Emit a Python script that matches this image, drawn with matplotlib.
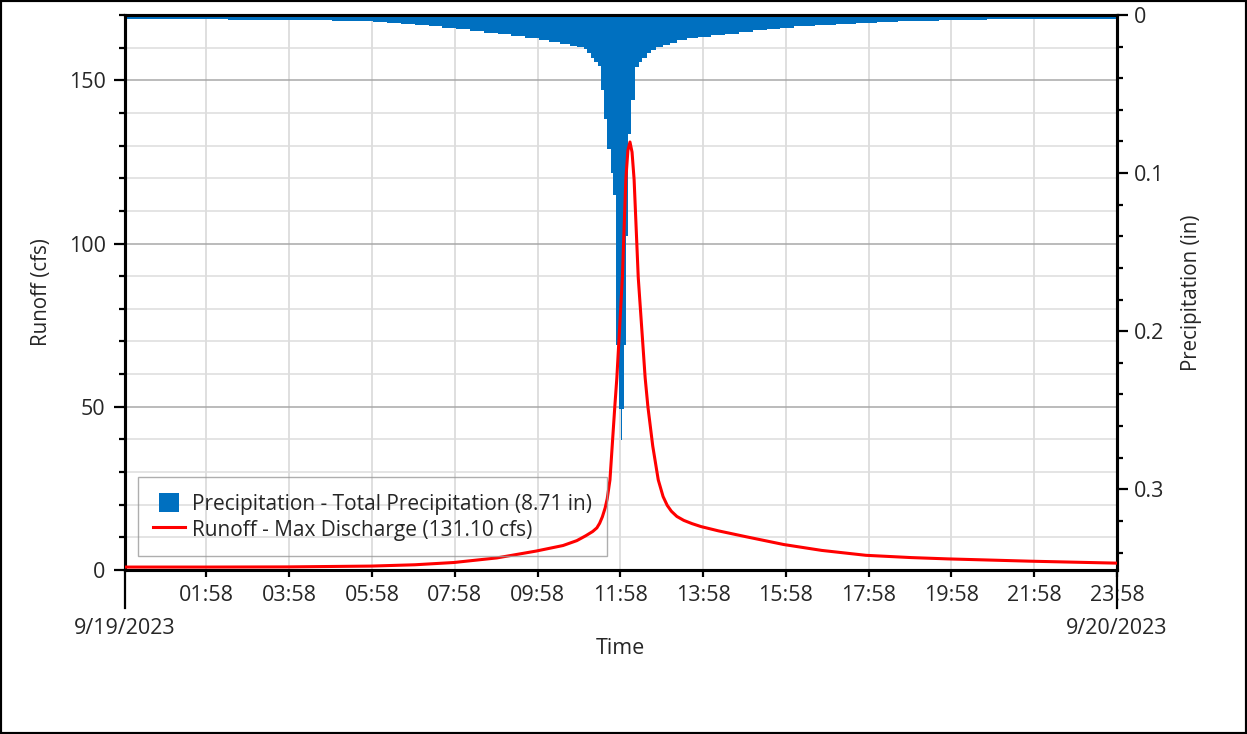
import numpy as np
import matplotlib
matplotlib.use("Agg")
import matplotlib.pyplot as plt
from matplotlib.ticker import MultipleLocator, FuncFormatter
from matplotlib.patches import Rectangle, StepPatch
from matplotlib.legend_handler import HandlerPatch

plt.rcParams['font.family'] = ['Open Sans', 'DejaVu Sans']

# ---------------- data ----------------
# Runoff hydrograph: minutes after 9/19/2023 00:00 and discharge (cfs)
runoff_minutes = [0, 119, 236, 357, 420, 477, 539, 596, 635, 655, 668, 678, 684, 688,
                  692, 696, 699, 703, 710, 713, 721, 726, 729, 732, 735, 738, 744, 754,
                  758, 765, 773, 780, 786, 792, 800, 810, 822, 835, 860, 900, 955, 1010,
                  1074, 1140, 1193, 1312, 1438]
runoff_cfs = [0.9, 0.9, 0.95, 1.2, 1.6, 2.3, 3.7, 5.8, 7.5, 9.0, 10.5, 11.8, 12.9, 14.3,
              16.3, 19.0, 21.8, 27.6, 50.0, 58.9, 89.6, 119.6, 128.5, 131.1, 128.0, 119.6,
              89.6, 58.9, 50.0, 38.0, 27.6, 22.5, 19.8, 18.0, 16.4, 15.2, 14.2, 13.3, 12.0,
              10.2, 7.8, 6.0, 4.5, 3.8, 3.4, 2.7, 2.1]

# Precipitation hyetograph: interval boundaries (minutes) and depth per interval (in)
precip_edges_min = [0, 30, 60, 90, 120, 150, 180, 210, 240, 270, 300, 330, 360, 380, 400,
                    420, 440, 460, 480, 500, 520, 540, 560, 580, 600, 615, 630, 645, 655,
                    665, 670, 675, 680, 685, 690, 694, 698, 704, 708, 712, 716, 719, 721,
                    723, 726, 729, 734, 739, 745, 750, 756, 762, 770, 780, 790, 800, 815,
                    830, 850, 870, 890, 910, 930, 950, 970, 1000, 1030, 1060, 1090, 1120,
                    1150, 1180, 1210, 1250, 1290, 1330, 1380, 1438]
precip_depth_in = [0.0026, 0.0026, 0.0027, 0.0027, 0.0028, 0.0029, 0.0030, 0.0031, 0.0032,
                   0.0034, 0.0036, 0.0039, 0.0044, 0.0050, 0.0057, 0.0064, 0.0071, 0.0080,
                   0.0090, 0.0103, 0.0112, 0.0120, 0.0130, 0.0145, 0.0158, 0.0172, 0.0183,
                   0.0193, 0.0200, 0.0212, 0.0240, 0.0275, 0.0300, 0.0320, 0.0475, 0.0660,
                   0.0850, 0.1000, 0.1140, 0.2090, 0.2490, 0.2690, 0.2490, 0.2090, 0.1400,
                   0.0750, 0.0540, 0.0330, 0.0300, 0.0270, 0.0240, 0.0220, 0.0205, 0.0190,
                   0.0175, 0.0160, 0.0148, 0.0138, 0.0128, 0.0118, 0.0108, 0.0098, 0.0088,
                   0.0080, 0.0072, 0.0063, 0.0055, 0.0048, 0.0043, 0.0039, 0.0035, 0.0032,
                   0.0030, 0.0028, 0.0027, 0.0026, 0.0025]
total_precip_in = 8.71

hour_tick_labels = ["01:58", "03:58", "05:58", "07:58", "09:58", "11:58",
                    "13:58", "15:58", "17:58", "19:58", "21:58", "23:58"]
date_labels = ["9/19/2023", "9/20/2023"]
date_label_minutes = [0, 1438]

# ---------------- figure ----------------
W, H = 1247, 734
fig = plt.figure(figsize=(W / 100, H / 100), dpi=100)
ax = fig.add_axes([125 / W, 1 - 570 / H, 992 / W, 555 / H])
ax2 = ax.twinx()

TXT = '#262626'
FS = 15.5
FS_LAB = 14.8
FS_LEG = 15.0
BLUE = '#0070C0'
RED = '#FF0000'

# precipitation hangs from the top on the inverted right axis
precip = ax2.stairs(precip_depth_in, precip_edges_min, baseline=0, fill=True,
                    color=BLUE, linewidth=0, zorder=2)

# runoff line uses the left-axis scale but is drawn above the bars
line, = ax2.plot(runoff_minutes, runoff_cfs, color=RED, lw=2.2, zorder=3,
                 transform=ax.transData, solid_joinstyle='round')

# left axis (runoff)
ax.set_xlim(0, 1438)
ax.set_ylim(0, 170)
ax.yaxis.set_major_locator(MultipleLocator(50))
ax.yaxis.set_minor_locator(MultipleLocator(10))
ax.grid(True, which='major', axis='y', color='#A8A8A8', lw=1.1)
ax.grid(True, which='minor', axis='y', color='#DDDDDD', lw=1.1)
ax.grid(True, which='major', axis='x', color='#D6D6D6', lw=1.1)
ax.set_axisbelow(True)

tick_pos = [int(s[:2]) * 60 + int(s[3:]) for s in hour_tick_labels]
ax.set_xticks(tick_pos, hour_tick_labels)
ax.tick_params(axis='x', which='major', length=5, width=1.6, pad=6,
               labelsize=FS, labelcolor=TXT)
ax.tick_params(axis='y', which='major', length=8, width=1.6, pad=6,
               labelsize=FS, labelcolor=TXT)
ax.tick_params(axis='y', which='minor', length=4, width=1.6)

# right axis (precipitation), inverted
ax2.set_xlim(0, 1438)
ax2.set_ylim(0.351, 0)
ax2.yaxis.set_major_locator(MultipleLocator(0.1))
ax2.yaxis.set_minor_locator(MultipleLocator(0.02))
ax2.yaxis.set_major_formatter(FuncFormatter(lambda v, p: f"{v:g}"))
ax2.tick_params(axis='y', which='major', length=8, width=1.6, pad=4,
                labelsize=FS, labelcolor=TXT)
ax2.tick_params(axis='y', which='minor', length=4, width=1.6)

for a in (ax, ax2):
    for s in a.spines.values():
        s.set_linewidth(2.2)
        s.set_color('black')

# long boundary ticks and the date labels under them
xt = ax.get_xaxis_transform()
for m, lab in zip(date_label_minutes, date_labels):
    ax.plot([m, m], [0, -38 / 555], transform=xt, color='black', lw=1.6,
            clip_on=False, zorder=5)
    ax.text(m, -58 / 555, lab, transform=xt, ha='center', va='center',
            fontsize=FS, color=TXT)
ax.set_xlim(0, 1438)

# axis titles
ax.set_ylabel('Runoff (cfs)', fontsize=FS_LAB, color=TXT, va='center')
ax.yaxis.set_label_coords((42 - 125) / 992, 0.5)
ax2.set_ylabel('Precipitation (in)', fontsize=FS_LAB, color=TXT, va='center', rotation=90)
ax2.yaxis.set_label_coords((1192 - 125) / 992, 0.5)
ax.set_xlabel('Time', fontsize=FS, color=TXT, va='center')
ax.xaxis.set_label_coords((620 - 125) / 992, -78 / 555)


# legend with a square swatch for the precipitation
def square_patch(legend, orig_handle, xdescent, ydescent, width, height, fontsize):
    side = height
    return Rectangle((-xdescent + (width - side) / 2, -ydescent), side, side)


precip_label = f"Precipitation - Total Precipitation ({total_precip_in:.2f} in)"
runoff_label = f"Runoff - Max Discharge ({max(runoff_cfs):.2f} cfs)"
leg = ax2.legend([precip, line], [precip_label, runoff_label],
                 loc='lower left', bbox_to_anchor=(13 / 992, 14 / 555),
                 fontsize=FS_LEG, labelcolor=TXT, frameon=True, fancybox=False,
                 edgecolor='#9A9A9A', facecolor='none', borderpad=0.74,
                 labelspacing=0.2, handlelength=1.5, handleheight=1.07,
                 handletextpad=0.33, borderaxespad=0,
                 handler_map={StepPatch: HandlerPatch(patch_func=square_patch)})
leg.get_frame().set_linewidth(1.0)

# outer frame around the whole figure
fig.add_artist(Rectangle((0, 0), 1, 1, transform=fig.transFigure, fill=False,
                         edgecolor='black', lw=3, clip_on=False))

fig.savefig('out.png', dpi=100)
